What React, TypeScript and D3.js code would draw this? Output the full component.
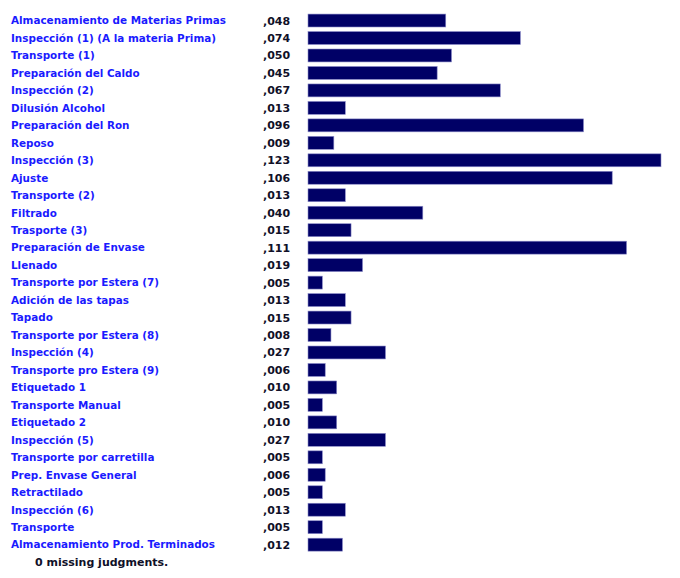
import * as d3 from 'd3';
import React, { FC, useEffect } from 'react';

const categories: string[] = [
	'Almacenamiento de Materias Primas',
	'Inspección (1) (A la materia Prima)',
	'Transporte (1)',
	'Preparación del Caldo',
	'Inspección (2)',
	'Dilusión Alcohol',
	'Preparación del Ron',
	'Reposo',
	'Inspección (3)',
	'Ajuste',
	'Transporte (2)',
	'Filtrado',
	'Trasporte (3)',
	'Preparación de Envase',
	'Llenado',
	'Transporte por Estera (7)',
	'Adición de las tapas',
	'Tapado',
	'Transporte por Estera (8)',
	'Inspección (4)',
	'Transporte pro Estera (9)',
	'Etiquetado 1',
	'Transporte Manual',
	'Etiquetado 2',
	'Inspección (5)',
	'Transporte por carretilla',
	'Prep. Envase General',
	'Retractilado',
	'Inspección (6)',
	'Transporte',
	'Almacenamiento Prod. Terminados',
];

const values: number[] = [
	0.048, 0.074, 0.05, 0.045, 0.067, 0.013, 0.096, 0.009, 0.123, 0.106, 0.013, 0.04, 0.015, 0.111, 0.019,
	0.005, 0.013, 0.015, 0.008, 0.027, 0.006, 0.01, 0.005, 0.01, 0.027, 0.005, 0.006, 0.005, 0.013, 0.005,
	0.012,
];

const footer = '0  missing judgments.';

const App: FC = () => {
	const containerDiv = React.useRef<HTMLDivElement>(null);
	const { width, height } = { width: 680, height: 578 };

	useEffect(() => {
		const data = categories.map((name, i) => ({ name, value: values[i] }));

		const y: any = d3
			.scaleBand()
			.domain(categories)
			.range([11.8, 553.4])
			.paddingInner(0.26)
			.paddingOuter(0.13);
		const x: any = d3.scaleLinear().domain([0, 0.123]).range([308, 661]);
		const fmt = (v: number) => d3.format('.3f')(v).replace(/^0\./, ',');
		const mid = (d: any) => y(d.name) + y.bandwidth() / 2;

		const svg = d3
			.create('svg')
			.attr('width', width)
			.attr('height', height)
			.style('display', 'block')
			.style('font-family', 'Tahoma, "DejaVu Sans", Verdana, sans-serif')
			.style('font-weight', 'bold');

		svg.append('rect').attr('width', width).attr('height', height).attr('fill', '#fff');

		svg.append('g')
			.style('font-size', '10.4px')
			.selectAll('text')
			.data(data)
			.join('text')
			.attr('x', 11)
			.attr('y', (d: any) => mid(d) + 3.8)
			.attr('fill', '#1a1aff')
			.text((d: any) => d.name);

		svg.append('g')
			.style('font-size', '11px')
			.selectAll('text')
			.data(data)
			.join('text')
			.attr('x', 263)
			.attr('y', (d: any) => mid(d) + 4)
			.attr('fill', '#101028')
			.text((d: any) => fmt(d.value));

		svg.append('g')
			.selectAll('rect')
			.data(data)
			.join('rect')
			.attr('x', x(0))
			.attr('y', (d: any) => y(d.name))
			.attr('width', (d: any) => x(d.value) - x(0))
			.attr('height', y.bandwidth())
			.attr('fill', '#000066')
			.attr('stroke', '#8a8ac8')
			.attr('stroke-width', 0.6);

		svg.append('text')
			.attr('x', 35)
			.attr('y', 566)
			.attr('fill', '#101028')
			.style('font-size', '11px')
			.text(footer);

		const container = containerDiv.current as HTMLDivElement;
		const node = svg.node();
		if (container && node) {
			container.firstChild && container.removeChild(container.firstChild);
			container.appendChild(node);
		}
	}, []);

	return <div ref={containerDiv} style={{ margin: -8 }}></div>;
};

export default App;
